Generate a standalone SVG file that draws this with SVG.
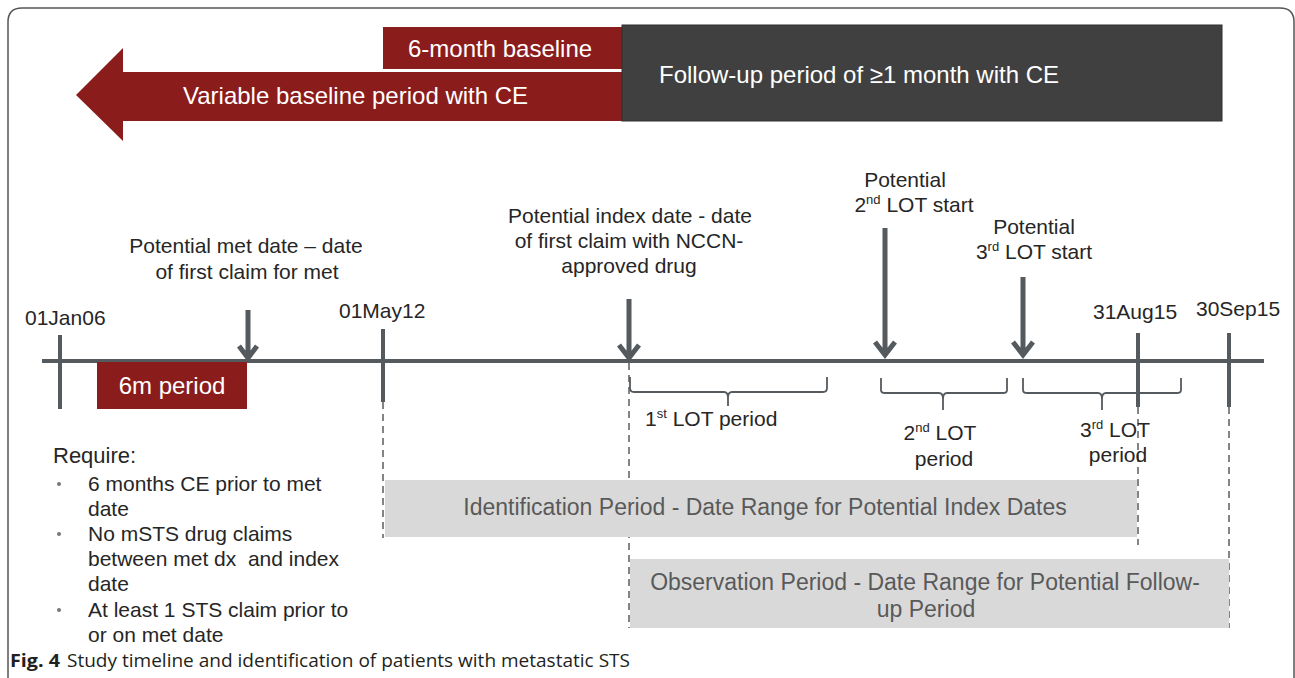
<svg xmlns="http://www.w3.org/2000/svg" width="1295" height="678" viewBox="0 0 1295 678">
<style>
text{font-family:"Liberation Sans",Arial,sans-serif;}
.lbl{font-size:21px;fill:#262626;}
.mid{text-anchor:middle;}
.wt{font-size:24px;fill:#ffffff;}
.gt{font-size:23px;fill:#595959;}
.axis{stroke:#555a5f;stroke-width:4;fill:none;}
.arr{stroke:#555a5f;stroke-width:5;fill:none;stroke-linejoin:miter;}
.dash{stroke:#666;stroke-width:1.6;stroke-dasharray:7 5;fill:none;}
.brace{stroke:#555a5f;stroke-width:1.8;fill:none;}
.sup{font-size:13px;}
.cap{font-family:"Open Sans","Noto Sans",sans-serif;font-size:18.5px;fill:#231f20;}
</style>
<rect width="1295" height="678" fill="#ffffff"/>
<path d="M8,678 L8,22 Q8,8 22,8 L1280,8 Q1294,8 1294,22 L1294,678" fill="none" stroke="#555" stroke-width="1.5"/>

<g id="baseline-arrow">
<polygon points="76,95 123,48 123,72 622,72 622,121 123,121 123,141" fill="#8b1c1c"/>
<text class="wt" x="183" y="104">Variable baseline period with CE</text>
</g>
<g id="six-month-baseline">
<rect x="383" y="27" width="239" height="42" fill="#8b1c1c"/>
<text class="wt" x="408" y="57">6-month baseline</text>
</g>
<g id="follow-up">
<rect x="622" y="25" width="600" height="96" fill="#404040" stroke="#2e2e2e" stroke-width="1"/>
<text class="wt" x="659" y="83">Follow-up period of ≥1 month with CE</text>
</g>

<g id="connectors">
<line class="axis" x1="42" y1="361" x2="1264" y2="361"/>
<line class="axis" x1="60" y1="335" x2="60" y2="409"/>
<line class="axis" x1="383" y1="329" x2="383" y2="402" stroke-width="3"/>
<line class="axis" x1="1138" y1="333" x2="1138" y2="407" stroke-width="3"/>
<line class="axis" x1="1229" y1="333" x2="1229" y2="407" stroke-width="3"/>
<line class="dash" x1="383" y1="402" x2="383" y2="538"/>
<line class="dash" x1="629" y1="363" x2="629" y2="628"/>
<line class="dash" x1="1138" y1="407" x2="1138" y2="545"/>
<line class="dash" x1="1229" y1="407" x2="1229" y2="628"/>
<path class="arr" d="M248,310 L248,358 M239,346 L248,358 L257,346"/>
<path class="arr" d="M629,299 L629,358 M619,345 L629,358 L639,345"/>
<path class="arr" d="M885,228 L885,355 M875,342 L885,355 L895,342"/>
<path class="arr" d="M1023,277 L1023,355 M1013,342 L1023,355 L1033,342"/>
<path class="brace" d="M630,377 L630,388 Q630,392 634,392 L724,392 Q728,392 728,398 L728,406 M728,398 Q728,392 732,392 L823,392 Q827,392 827,388 L827,377"/>
<path class="brace" d="M881,378 L881,390 Q881,393 885,393 L939,393 Q943,393 943,399 L943,410 M943,399 Q943,393 947,393 L1003,393 Q1007,393 1007,390 L1007,378"/>
<path class="brace" d="M1023,378 L1023,390 Q1023,393 1027,393 L1098,393 Q1102,393 1102,399 L1102,410 M1102,399 Q1102,393 1106,393 L1177,393 Q1181,393 1181,390 L1181,378"/>
</g>

<g id="six-m-period">
<rect x="97" y="362" width="150" height="47" fill="#8b1c1c"/>
<text class="wt mid" x="172" y="394">6m period</text>
</g>

<g id="dates">
<text class="lbl" x="25" y="325">01Jan06</text>
<text class="lbl" x="339" y="318">01May12</text>
<text class="lbl" x="1093" y="319">31Aug15</text>
<text class="lbl" x="1196" y="316">30Sep15</text>
</g>

<g id="met-date-label">
<text class="lbl mid" x="246" y="253">Potential met date – date</text>
<text class="lbl mid" x="247" y="279">of first claim for met</text>
</g>
<g id="index-date-label">
<text class="lbl mid" x="630" y="223">Potential index date - date</text>
<text class="lbl mid" x="629" y="248">of first claim with NCCN-</text>
<text class="lbl mid" x="629" y="273">approved drug</text>
</g>
<g id="lot2-start-label">
<text class="lbl mid" x="905" y="187">Potential</text>
<text class="lbl mid" x="914" y="212">2<tspan class="sup" dy="-8">nd</tspan><tspan dy="8"> LOT start</tspan></text>
</g>
<g id="lot3-start-label">
<text class="lbl mid" x="1034" y="234">Potential</text>
<text class="lbl mid" x="1034" y="259">3<tspan class="sup" dy="-8">rd</tspan><tspan dy="8"> LOT start</tspan></text>
</g>

<g id="lot1-period">
<text class="lbl" x="645" y="426">1<tspan class="sup" dy="-8">st</tspan><tspan dy="8"> LOT period</tspan></text>
</g>
<g id="lot2-period">
<text class="lbl mid" x="940" y="440">2<tspan class="sup" dy="-8">nd</tspan><tspan dy="8"> LOT</tspan></text>
<text class="lbl mid" x="944" y="466">period</text>
</g>
<g id="lot3-period">
<text class="lbl mid" x="1115" y="437">3<tspan class="sup" dy="-8">rd</tspan><tspan dy="8"> LOT</tspan></text>
<text class="lbl mid" x="1118" y="462">period</text>
</g>

<g id="identification-period">
<rect x="385" y="480" width="752" height="57" fill="#d9d9d9"/>
<text class="gt mid" x="765" y="515">Identification Period - Date Range for Potential Index Dates</text>
</g>
<g id="observation-period">
<rect x="630" y="559" width="599" height="69" fill="#d9d9d9"/>
<text class="gt mid" x="925" y="590">Observation Period - Date Range for Potential Follow-</text>
<text class="gt mid" x="926" y="617">up Period</text>
</g>

<g id="requirements">
<text class="lbl" x="53" y="463" style="font-size:22px">Require:</text>
<g fill="#777"><circle cx="59" cy="484" r="2"/><circle cx="59" cy="534" r="2"/><circle cx="59" cy="610" r="2"/></g>
<text class="lbl" x="88" y="491">6 months CE prior to met</text>
<text class="lbl" x="88" y="516">date</text>
<text class="lbl" x="88" y="541">No mSTS drug claims</text>
<text class="lbl" x="88" y="566" xml:space="preserve">between met dx  and index</text>
<text class="lbl" x="88" y="591">date</text>
<text class="lbl" x="88" y="617">At least 1 STS claim prior to</text>
<text class="lbl" x="88" y="642">or on met date</text>
</g>

<g id="caption">
<text class="cap" x="10" y="667" font-weight="bold" textLength="50" lengthAdjust="spacingAndGlyphs">Fig. 4</text>
<text class="cap" x="67" y="667" textLength="563" lengthAdjust="spacingAndGlyphs">Study timeline and identification of patients with metastatic STS</text>
</g>
</svg>
